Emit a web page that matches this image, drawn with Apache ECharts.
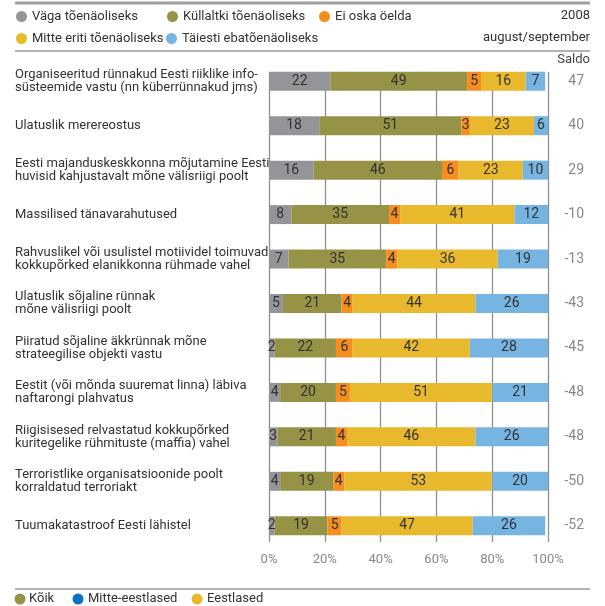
<!DOCTYPE html>
<html>
<head>
<meta charset="utf-8">
<script src="https://cdn.jsdelivr.net/npm/echarts@6/dist/echarts.min.js"></script>
<style>
  html, body { margin: 0; padding: 0; background: #fff; }
  #main { width: 605px; height: 606px; }
</style>
</head>
<body>
<div id="main"></div>
<script>
// andmed
var categories = [
  'Organiseeritud rünnakud Eesti riiklike info-\nsüsteemide vastu (nn küberrünnakud jms)',
  'Ulatuslik merereostus',
  'Eesti majanduskeskkonna mõjutamine Eesti\nhuvisid kahjustavalt mõne välisriigi poolt',
  'Massilised tänavarahutused',
  'Rahvuslikel või usulistel motiividel toimuvad\nkokkupõrked elanikkonna rühmade vahel',
  'Ulatuslik sõjaline rünnak\nmõne välisriigi poolt',
  'Piiratud sõjaline äkkrünnak mõne\nstrateegilise objekti vastu',
  'Eestit (või mõnda suuremat linna) läbiva\nnaftarongi plahvatus',
  'Riigisisesed relvastatud kokkupõrked\nkuritegelike rühmituste (maffia) vahel',
  'Terroristlike organisatsioonide poolt\nkorraldatud terroriakt',
  'Tuumakatastroof Eesti lähistel'
];
var vagaToen = [22, 18, 16, 8, 7, 5, 2, 4, 3, 4, 2];
var kullaltki = [49, 51, 46, 35, 35, 21, 22, 20, 21, 19, 19];
var eiOska = [5, 3, 6, 4, 4, 4, 6, 5, 4, 4, 5];
var mitteEriti = [16, 23, 23, 41, 36, 44, 42, 51, 46, 53, 47];
var taiesti = [7, 6, 10, 12, 19, 26, 28, 21, 26, 20, 26];
var saldo = [47, 40, 29, -10, -13, -43, -45, -48, -48, -50, -52];
var xTicks = [0, 20, 40, 60, 80, 100];

var seriesNames = ['Väga tõenäoliseks', 'Küllaltki tõenäoliseks', 'Ei oska öelda', 'Mitte eriti tõenäoliseks', 'Täiesti ebatõenäoliseks'];
var seriesData = [vagaToen, kullaltki, eiOska, mitteEriti, taiesti];
var colors = ['#939598', '#969346', '#f68e1f', '#e8b92d', '#76b4e2'];

var FONT = 'Roboto, sans-serif';

var chart = echarts.init(document.getElementById('main'));

var legendPos = [[16, 10], [167, 10], [319, 10], [16, 32], [166, 32]];
var legends = seriesNames.map(function (n, i) {
  return {
    data: [n],
    left: legendPos[i][0],
    top: legendPos[i][1],
    icon: 'circle',
    itemWidth: 11,
    itemHeight: 11,
    itemGap: 5,
    padding: 0,
    selectedMode: false,
    textStyle: { color: '#333', fontSize: 13, fontFamily: FONT }
  };
});

var series = seriesNames.map(function (n, i) {
  return {
    name: n,
    type: 'bar',
    stack: 'all',
    barWidth: 19,
    xAxisIndex: 0,
    yAxisIndex: 0,
    data: seriesData[i],
    itemStyle: { color: colors[i] },
    label: {
      show: true,
      position: 'inside',
      color: '#333',
      fontSize: 14,
      fontFamily: FONT
    }
  };
});

var option = {
  animation: false,
  color: colors,
  legend: legends,
  grid: [
    { left: 269, right: 57, top: 59, bottom: 58 },  // palkide jaoks
    { left: 269, right: 57, top: 72, bottom: 64 }   // ruudustik + protsendid
  ],
  xAxis: [{
    type: 'value',
    gridIndex: 0,
    min: 0,
    max: 100,
    interval: 20,
    axisLine: { show: false },
    axisTick: { show: false },
    splitLine: { show: false },
    axisLabel: { show: false }
  }, {
    type: 'value',
    gridIndex: 1,
    min: 0,
    max: 100,
    interval: 20,
    axisLine: { show: false },
    axisTick: { show: false },
    splitLine: { show: true, lineStyle: { color: '#8e8e8e', width: 1.3 } },
    axisLabel: {
      color: '#888',
      fontSize: 13,
      fontFamily: FONT,
      margin: 11,
      formatter: function (v) { return xTicks.indexOf(v) >= 0 ? v + '%' : ''; }
    }
  }],
  yAxis: [{
    type: 'category',
    gridIndex: 0,
    inverse: true,
    data: categories,
    axisLine: { show: false },
    axisTick: { show: false },
    axisLabel: {
      align: 'left',
      margin: 254,
      color: '#333',
      fontSize: 13,
      lineHeight: 13,
      fontFamily: FONT
    }
  }, {
    type: 'category',
    gridIndex: 0,
    inverse: true,
    position: 'right',
    data: saldo.map(String),
    axisLine: { show: false },
    axisTick: { show: false },
    axisLabel: {
      align: 'right',
      margin: 36,
      color: '#888',
      fontSize: 14,
      fontFamily: FONT
    }
  }, {
    type: 'value',
    gridIndex: 1,
    show: false
  }],
  series: series,
  graphic: [
    { type: 'line', shape: { x1: 15, y1: 3, x2: 590, y2: 3 }, style: { stroke: '#a0a0a0', lineWidth: 3 } },
    { type: 'line', shape: { x1: 15, y1: 51, x2: 590, y2: 51 }, style: { stroke: '#999', lineWidth: 1.5 } },
    { type: 'line', shape: { x1: 15, y1: 589, x2: 590, y2: 589 }, style: { stroke: '#999', lineWidth: 1.5 } },
    { type: 'text', right: 15, top: 9, style: { text: '2008', fill: '#333', font: '13px ' + FONT } },
    { type: 'text', right: 15, top: 31, style: { text: 'august/september', fill: '#333', font: '13px ' + FONT } },
    { type: 'text', right: 15, top: 53, style: { text: 'Saldo', fill: '#444', font: '13px ' + FONT } },
    { type: 'circle', shape: { cx: 20, cy: 599, r: 5.5 }, style: { fill: '#969346' } },
    { type: 'text', left: 29, top: 592, style: { text: 'Kõik', fill: '#333', font: '13px ' + FONT } },
    { type: 'circle', shape: { cx: 78, cy: 599, r: 5.5 }, style: { fill: '#0a72c2' } },
    { type: 'text', left: 88, top: 592, style: { text: 'Mitte-eestlased', fill: '#333', font: '13px ' + FONT } },
    { type: 'circle', shape: { cx: 197, cy: 599, r: 5.5 }, style: { fill: '#e8b92d' } },
    { type: 'text', left: 207, top: 592, style: { text: 'Eestlased', fill: '#333', font: '13px ' + FONT } }
  ]
};

chart.setOption(option);
</script>
</body>
</html>
